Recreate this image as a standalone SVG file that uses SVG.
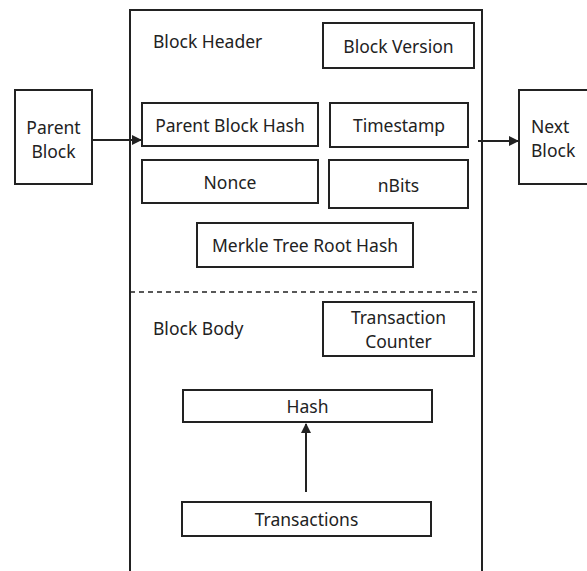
<svg xmlns="http://www.w3.org/2000/svg" width="587" height="571" viewBox="0 0 587 571">
<defs>
<style>
.box{fill:#fff;stroke:#222;stroke-width:2}
.ln{fill:none;stroke:#222;stroke-width:2}
text{font-family:"Noto Sans","Liberation Sans",sans-serif;font-size:17.5px;fill:#222}
.c{text-anchor:middle;dominant-baseline:central}
</style>
<marker id="ah" viewBox="0 0 10 10" refX="9" refY="5" markerWidth="5" markerHeight="5" orient="auto-start-reverse"><path d="M0,0 L10,5 L0,10 z" fill="#222"/></marker>
</defs>
<rect width="587" height="571" fill="#fff"/>
<g id="block-container">
<path class="ln" d="M130,571 V10 H482 V571"/>
<line x1="130" y1="292" x2="482" y2="292" stroke="#222" stroke-width="1.5" stroke-dasharray="5,4"/>
<text x="153" y="48">Block Header</text>
<text x="153" y="335">Block Body</text>
</g>
<g id="parent-block"><rect class="box" x="15" y="90" width="77" height="94"/><text class="c" x="53.5" y="127">Parent</text><text class="c" x="53.5" y="151">Block</text></g>
<g id="next-block"><rect class="box" x="519" y="90" width="70" height="94"/><text x="531" y="133">Next</text><text x="531" y="157">Block</text></g>
<g id="block-version"><rect class="box" x="323" y="23" width="151" height="45"/><text class="c" x="398.5" y="45.5">Block Version</text></g>
<g id="parent-block-hash"><rect class="box" x="142" y="103" width="176" height="43"/><text class="c" x="230" y="125">Parent Block Hash</text></g>
<g id="timestamp"><rect class="box" x="330" y="103" width="138" height="44"/><text class="c" x="399" y="125">Timestamp</text></g>
<g id="nonce"><rect class="box" x="142" y="160" width="176" height="43"/><text class="c" x="230" y="182">Nonce</text></g>
<g id="nbits"><rect class="box" x="329" y="160" width="139" height="48"/><text class="c" x="398.5" y="185">nBits</text></g>
<g id="merkle-root"><rect class="box" x="197" y="223" width="216" height="44"/><text class="c" x="305" y="245">Merkle Tree Root Hash</text></g>
<g id="transaction-counter"><rect class="box" x="323" y="302" width="151" height="54"/><text class="c" x="398.5" y="317">Transaction</text><text class="c" x="398.5" y="341">Counter</text></g>
<g id="hash"><rect class="box" x="183" y="390" width="249" height="32"/><text class="c" x="307.5" y="406">Hash</text></g>
<g id="transactions"><rect class="box" x="182" y="502" width="249" height="34"/><text class="c" x="306.5" y="519">Transactions</text></g>
<g id="connectors">
<line class="ln" x1="92" y1="140" x2="141" y2="140" marker-end="url(#ah)"/>
<line class="ln" x1="478" y1="141" x2="518" y2="141" marker-end="url(#ah)"/>
<line class="ln" x1="306" y1="492" x2="306" y2="424" marker-end="url(#ah)"/>
</g>
</svg>
